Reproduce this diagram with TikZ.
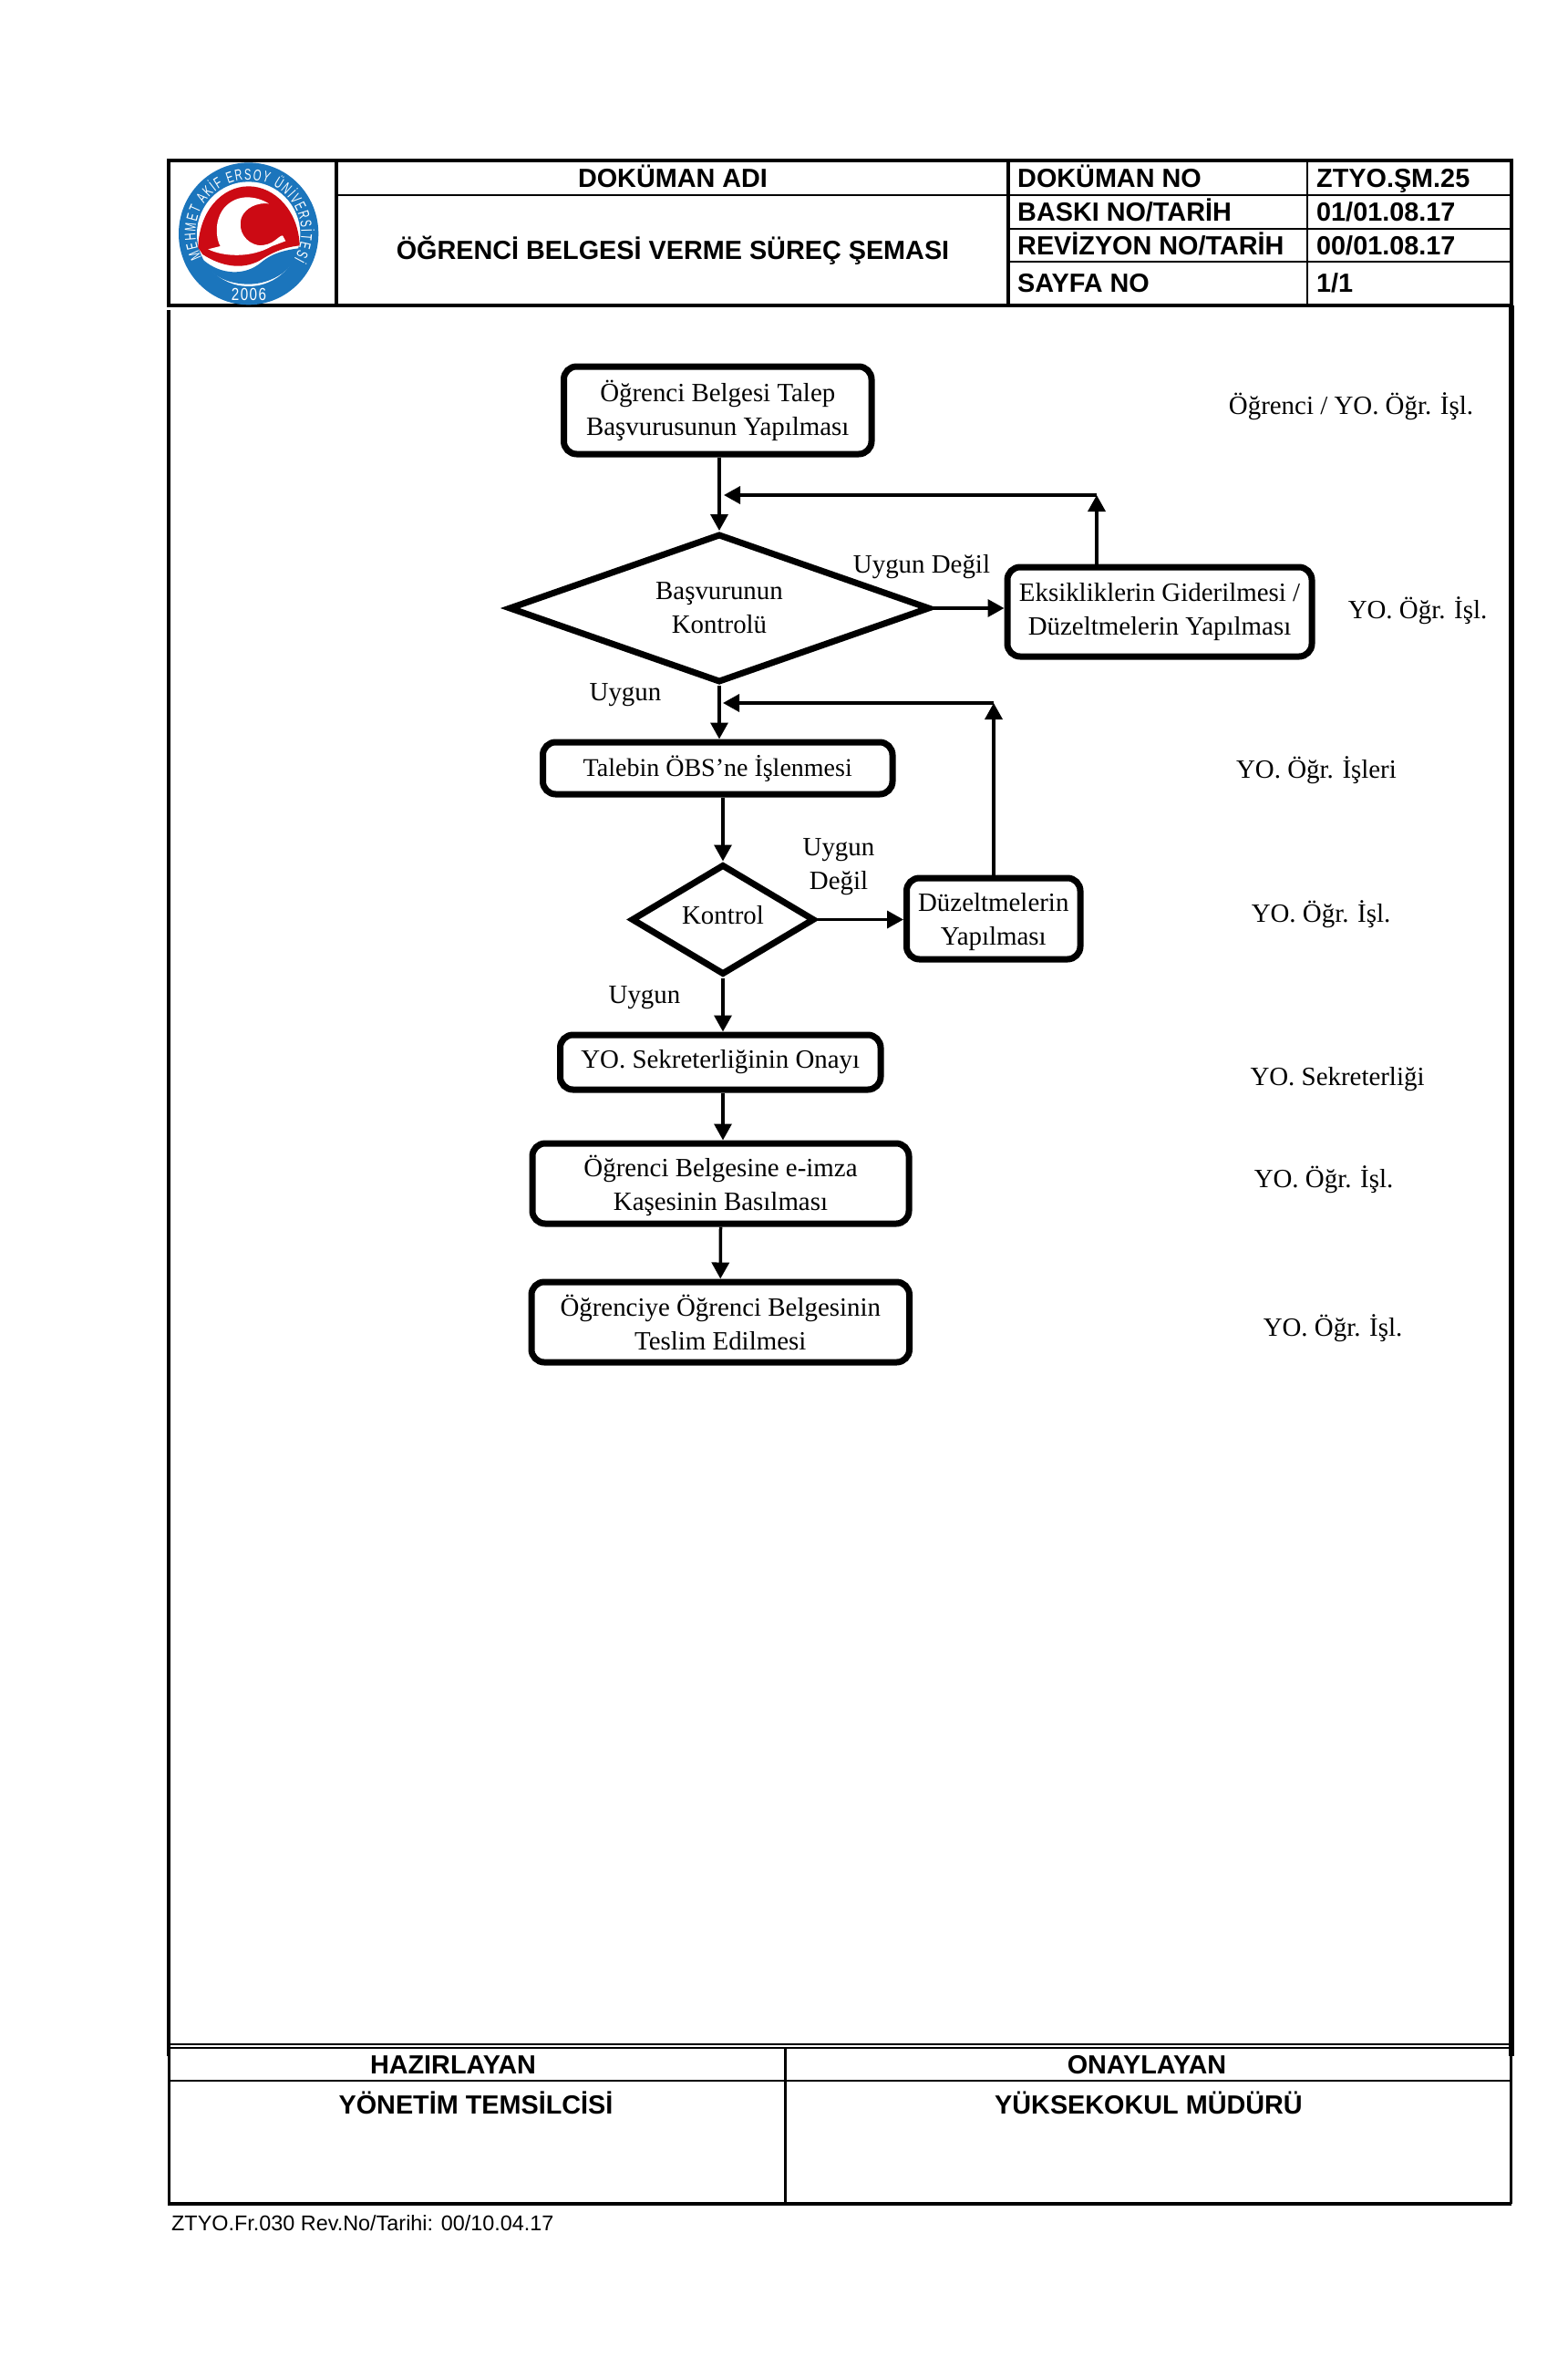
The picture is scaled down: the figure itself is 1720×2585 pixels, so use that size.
\documentclass[tikz,border=0pt]{standalone}
\usepackage{fontspec}
\setmainfont{Liberation Serif}
\newfontfamily\arialf{Liberation Sans}
\newfontfamily\logof[FakeStretch=0.66]{Liberation Sans}
\newfontfamily\yearf[FakeStretch=0.8,LetterSpace=8]{Liberation Sans}
\usetikzlibrary{shapes.geometric,arrows.meta,decorations.text,calc}
\definecolor{logoblue}{HTML}{1B75BC}
\definecolor{logored}{HTML}{CC0A14}
\tikzset{
  stepbox/.style={draw,line width=7pt,rounded corners=14pt,fill=white,align=center,inner sep=0pt,font=\fontsize{28.9}{37}\selectfont},
  decis/.style={draw,line width=7pt,diamond,fill=white,align=center,inner sep=0pt,font=\fontsize{28.9}{37}\selectfont},
  flow/.style={line width=3.5pt,-{Triangle[length=18pt,width=19pt]}},
  lab/.style={font=\fontsize{28.9}{37}\selectfont,align=center,inner sep=0pt},
  hdr/.style={font=\arialf\bfseries\fontsize{28.8}{34}\selectfont,inner sep=0pt},
  frame/.style={line width=4.5pt},
  rulethin/.style={line width=2.2pt}
}
\newcommand{\flowbox}[6]{%
  \pgfmathsetmacro{\fbw}{#3-#2}\pgfmathsetmacro{\fbh}{#5-#4}%
  \pgfmathsetmacro{\fbx}{(#3+#2)/2}\pgfmathsetmacro{\fby}{(#5+#4)/2}%
  \node[stepbox,minimum width=\fbw pt,minimum height=\fbh pt] (#1) at (\fbx,\fby) {#6};}
\begin{document}
\begin{tikzpicture}[x=1pt,y=-1pt]
\useasboundingbox (0,0) rectangle (1720,2585);
\fill[white] (0,0) rectangle (1720,2585);
% header table
\draw[frame] (185,176) rectangle (1658,335);
\draw[frame] (369,176) -- (369,335);
\draw[line width=3.5pt] (1106,176) -- (1106,335);
\draw[rulethin] (369,214) -- (1658,214);
\draw[rulethin] (1106,251) -- (1658,251);
\draw[rulethin] (1106,287) -- (1658,287);
\draw[line width=2.5pt] (1434,176) -- (1434,335);
\node[hdr,anchor=base] (t1) at (738,205) {DOKÜMAN ADI};
\node[hdr,anchor=base] (t2) at (738,284) {ÖĞRENCİ BELGESİ VERME SÜREÇ ŞEMASI};
\node[hdr,anchor=base west] (a1) at (1116,205) {DOKÜMAN NO};
\node[hdr,anchor=base west] (a2) at (1116,242) {BASKI NO/TARİH};
\node[hdr,anchor=base west] (a3) at (1116,279) {REVİZYON NO/TARİH};
\node[hdr,anchor=base west] (a4) at (1116,320) {SAYFA NO};
\node[hdr,anchor=base west] (b1) at (1444,205) {ZTYO.ŞM.25};
\node[hdr,anchor=base west] (b2) at (1444,242) {01/01.08.17};
\node[hdr,anchor=base west] (b3) at (1444,279) {00/01.08.17};
\node[hdr,anchor=base west] (b4) at (1444,320) {1/1};
% logo
\begin{scope}[shift={(185,175)},x=0.3333pt,y=-0.3333pt]
\fill[logoblue] (263,244) ellipse [x radius=230,y radius=234];
\fill[white] (263,245) ellipse [x radius=170,y radius=172];
\fill[logored] (97,290) .. controls (100,170) and (175,88) .. (263,88) .. controls (350,88) and (428,170) .. (431,283) .. controls (370,290) and (335,310) .. (300,332) .. controls (240,365) and (170,350) .. (112,312) -- cycle;
\fill[white] (330,145) .. controls (280,115) and (220,115) .. (182,160) .. controls (150,200) and (155,260) .. (170,285) -- (130,295) .. controls (180,320) and (270,325) .. (340,285) -- (385,268) -- (375,250) .. controls (360,250) and (345,285) .. (295,282) .. controls (255,275) and (225,235) .. (240,190) .. controls (252,160) and (290,140) .. (330,145) -- cycle;
\fill[logoblue] (116,332) .. controls (170,378) and (250,385) .. (305,338) .. controls (345,305) and (390,297) .. (428,292) .. controls (418,360) and (340,410) .. (263,410) .. controls (190,410) and (135,378) .. (116,332) -- cycle;
\end{scope}
\begin{scope}[shift={(272.5,255)},x=1pt,y=1pt]
\path[decorate,decoration={text along path,text align={fit to path},text={|\logof\fontsize{17}{17}\selectfont\color{white}|MEHMET AKİF ERSOY ÜNİVERSİTESİ}}] (208:58pt) arc (208:-30:58pt);
\end{scope}
\node[inner sep=0pt,text=white,font=\yearf\fontsize{19}{19}\selectfont] (yr) at (273,323) {2006};
% side frame
\draw[line width=4.5pt] (185,340) -- (185,2255);
\draw[line width=5.5pt] (1658,335) -- (1658,2255);
% footer table
\draw[line width=2.5pt] (184,2242) -- (1658,2242);
\draw[line width=2.5pt] (184,2246) -- (1658,2246);
\draw[line width=3pt] (185,2246) -- (185,2417);
\draw[line width=3pt] (1657,2246) -- (1657,2417);
\draw[line width=4.5pt] (184,2417) -- (1658,2417);
\draw[rulethin] (184,2282) -- (1658,2282);
\draw[line width=3pt] (861,2246) -- (861,2417);
\node[hdr,anchor=base] (h1) at (497,2274) {HAZIRLAYAN};
\node[hdr,anchor=base] (h2) at (1258,2274) {ONAYLAYAN};
\node[hdr,anchor=base] (h3) at (522,2318) {YÖNETİM TEMSİLCİSİ};
\node[hdr,anchor=base] (h4) at (1260,2318) {YÜKSEKOKUL MÜDÜRÜ};
\node[anchor=west,inner sep=0pt,font=\arialf\fontsize{23.4}{28}\selectfont] (f) at (188,2438) {ZTYO.Fr.030 Rev.No/Tarihi: 00/10.04.17};
% flow nodes
\flowbox{n1}{618.5}{956}{402}{498}{Öğrenci Belgesi Talep\\Başvurusunun Yapılması}
\flowbox{e}{1105}{1439}{622}{720}{Eksikliklerin Giderilmesi /\\Düzeltmelerin Yapılması}
\flowbox{t}{595.5}{979}{814}{871}{\fontsize{28}{37}\selectfont Talebin ÖBS’ne İşlenmesi}
\flowbox{dz}{994.5}{1185}{963}{1052}{\rule{0pt}{28pt}Düzeltmelerin\\Yapılması}
\flowbox{yo}{614.5}{966}{1135}{1195}{YO. Sekreterliğinin Onayı}
\flowbox{o}{584}{997}{1254}{1342}{\rule{0pt}{28pt}Öğrenci Belgesine e-imza\\Kaşesinin Basılması}
\flowbox{l}{583}{997.5}{1406}{1494}{Öğrenciye Öğrenci Belgesinin\\Teslim Edilmesi}
\node[decis,aspect=2.88,minimum width=462pt,minimum height=163pt] (d1) at (789,667) {Başvurunun\\Kontrolü};
\node[decis,aspect=1.67,minimum width=201pt,minimum height=121pt] (d2) at (793,1008.5) {\rule[-10pt]{0pt}{10pt}Kontrol};
\coordinate (fb1) at (1203,543);
\coordinate (j1) at (794,543);
\coordinate (fb2) at (1090,771);
\coordinate (j2) at (793,771);
% connectors
\draw[flow] (n1.south -| d1.north) -- (d1.north);
\draw[flow] (d1.east) -- (d1.east -| e.west);
\draw[flow] (d1.south) -- (d1.south |- t.north);
\draw[flow] (t.south -| d2.north) -- (d2.north);
\draw[flow] (d2.east) -- (d2.east -| dz.west);
\draw[flow] (d2.south) -- (d2.south |- yo.north);
\draw[flow] (yo.south -| d2.south) -- (d2.south |- o.north);
\draw[flow] (o.south) -- (l.north);
\draw[flow] (e.north -| fb1) -- (fb1);
\draw[flow] (fb1) -- (j1);
\draw[flow] (dz.north -| fb2) -- (fb2);
\draw[flow] (fb2) -- (j2);
% labels
\node[lab] (l1) at (1011,622) {Uygun Değil};
\node[lab] (l2) at (686,762) {Uygun};
\node[lab] (l3) at (920,951) {Uygun\\Değil};
\node[lab] (l4) at (707,1094) {Uygun};
\node[lab] (s1) at (1482,446) {Öğrenci / YO. Öğr. İşl.};
\node[lab] (s2) at (1555,670) {YO. Öğr. İşl.};
\node[lab] (s3) at (1444,845) {YO. Öğr. İşleri};
\node[lab] (s4) at (1449,1003) {YO. Öğr. İşl.};
\node[lab] (s5) at (1467,1184) {YO. Sekreterliği};
\node[lab] (s6) at (1452,1294) {YO. Öğr. İşl.};
\node[lab] (s7) at (1462,1457) {YO. Öğr. İşl.};
\end{tikzpicture}
\end{document}
